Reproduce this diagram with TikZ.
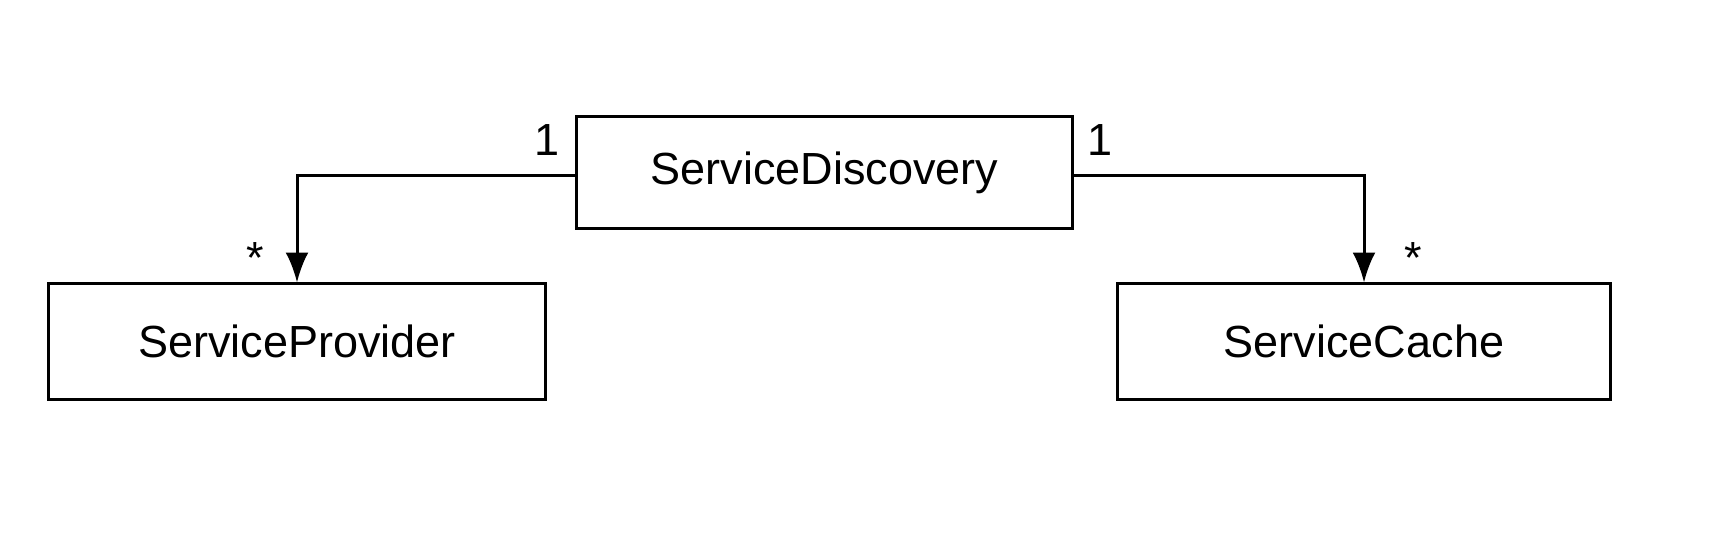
\documentclass[tikz,border=0pt]{standalone}
\usepackage{fontspec}
\setmainfont{Liberation Sans}
\usetikzlibrary{arrows.meta, positioning}

\begin{document}
\begin{tikzpicture}[
        x=0.01cm, y=-0.01cm,
        class/.style={rectangle, draw=black, line width=0.85pt, inner sep=0pt, align=center, font=\fontsize{12.8}{15}\selectfont},
        mult/.style={inner sep=0pt, font=\fontsize{12.8}{15}\selectfont},
        assoc/.style={-{Latex[length=8.5pt, width=6.5pt]}, line width=0.85pt, draw=black}
    ]
    \useasboundingbox (0,0) rectangle (1716,542);

    % Classes
    \node[class, minimum width=4.95cm, minimum height=1.11cm] (discovery) at (824.5,172.5) {ServiceDiscovery};
    \node[class, minimum width=4.96cm, minimum height=1.15cm] (provider) at (297,341.5) {ServiceProvider};
    \node[class, minimum width=4.92cm, minimum height=1.15cm] (cache) at (1364,341.5) {ServiceCache};

    % Associations
    \draw[assoc] ([yshift=-0.025cm]discovery.west) -| (provider.north);
    \draw[assoc] ([yshift=-0.025cm]discovery.east) -| (cache.north);

    % Multiplicities
    \node[mult] (one_left) at (547,140) {1};
    \node[mult] (many_left) at (255,258) {*};
    \node[mult] (one_right) at (1100,140) {1};
    \node[mult] (many_right) at (1413,258) {*};

\end{tikzpicture}
\end{document}
